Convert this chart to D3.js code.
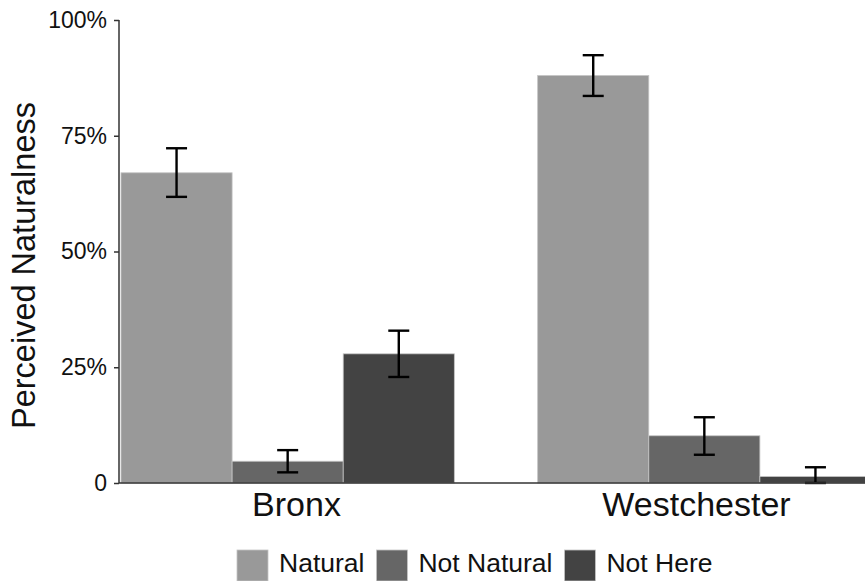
<!DOCTYPE html>
<html>
<head>
<meta charset="utf-8">
<script src="https://cdn.jsdelivr.net/npm/d3@7"></script>
<style>
  html, body { margin: 0; padding: 0; background: #fff; }
  svg { display: block; font-family: "Liberation Sans", Arial, Helvetica, sans-serif; }
</style>
</head>
<body>
<svg id="chart" width="865" height="581"></svg>
<script>
// Perceived naturalness by county and response
const groups = ["Bronx", "Westchester"];
const series = ["Natural", "Not Natural", "Not Here"];
const seriesColors = ["#999999", "#666666", "#434343"];

// Mean share and error-bar bounds per series, one entry per county
const meanNatural = [0.670, 0.880];
const meanNotNatural = [0.047, 0.102];
const meanNotHere = [0.279, 0.014];
const lowNatural = [0.618, 0.836];
const highNatural = [0.723, 0.924];
const lowNotNatural = [0.023, 0.061];
const highNotNatural = [0.071, 0.142];
const lowNotHere = [0.229, 0.000];
const highNotHere = [0.329, 0.034];

const yTicks = [0, 0.25, 0.5, 0.75, 1];
const yTickLabels = ["0", "25%", "50%", "75%", "100%"];
const yTitle = "Perceived Naturalness";

const means = [meanNatural, meanNotNatural, meanNotHere];
const lows = [lowNatural, lowNotNatural, lowNotHere];
const highs = [highNatural, highNotNatural, highNotHere];

const rows = [];
groups.forEach((g, gi) => {
  series.forEach((s, si) => {
    rows.push({ group: g, series: s, value: means[si][gi], lo: lows[si][gi], hi: highs[si][gi] });
  });
});

const svg = d3.select("#chart");
const W = 865, H = 581;
const axisX = 119, plotTop = 20, plotBottom = 483;

const y = d3.scaleLinear().domain([0, 1]).range([plotBottom, plotTop]);
const x0 = d3.scaleBand().domain(groups).range([121, 871]).paddingInner(0.2).paddingOuter(0);
const x1 = d3.scaleBand().domain(series).range([0, x0.bandwidth()]).padding(0);
const color = d3.scaleOrdinal().domain(series).range(seriesColors);

// Bars
svg.append("g").selectAll("rect").data(rows).join("rect")
  .attr("x", d => x0(d.group) + x1(d.series))
  .attr("y", d => y(d.value))
  .attr("width", x1.bandwidth())
  .attr("height", d => y(0) - y(d.value))
  .attr("fill", d => color(d.series))
  .attr("stroke", "#c4c4c4")
  .attr("stroke-width", 0.8);

// Error bars
const capHalf = 10.5;
const eb = svg.append("g").attr("stroke", "#000").attr("stroke-width", 2.4).attr("fill", "none");
rows.forEach(d => {
  const cx = x0(d.group) + x1(d.series) + x1.bandwidth() / 2;
  eb.append("line").attr("x1", cx).attr("x2", cx).attr("y1", y(d.lo)).attr("y2", y(d.hi));
  eb.append("line").attr("x1", cx - capHalf).attr("x2", cx + capHalf).attr("y1", y(d.hi)).attr("y2", y(d.hi));
  eb.append("line").attr("x1", cx - capHalf).attr("x2", cx + capHalf).attr("y1", y(d.lo)).attr("y2", y(d.lo));
});

// Y axis
const yAxis = svg.append("g")
  .attr("transform", `translate(${axisX},0)`)
  .call(d3.axisLeft(y).tickValues(yTicks).tickSize(5).tickPadding(7)
    .tickFormat((d, i) => yTickLabels[i]));
yAxis.select(".domain").attr("stroke", "#333").attr("stroke-width", 1.5).attr("d", `M0,${plotTop}V${plotBottom}`);
yAxis.selectAll(".tick line").attr("stroke", "#333").attr("stroke-width", 1.5);
yAxis.selectAll(".tick text").attr("font-size", 23).attr("fill", "#111")
  .attr("font-family", "Liberation Sans, Arial, sans-serif");

// X axis line and county labels
svg.append("line")
  .attr("x1", axisX).attr("x2", W).attr("y1", plotBottom).attr("y2", plotBottom)
  .attr("stroke", "#333").attr("stroke-width", 1.5);
const xLabel = d3.scalePoint().domain(groups).range([x0.range()[0] + 175, x0.range()[1] - 175]);
const xAxis = svg.append("g")
  .attr("transform", `translate(0,${plotBottom})`)
  .call(d3.axisBottom(xLabel).tickSize(0).tickPadding(9));
xAxis.select(".domain").remove();
xAxis.selectAll(".tick text").attr("font-size", 34).attr("fill", "#111")
  .attr("font-family", "Liberation Sans, Arial, sans-serif");

// Y axis title
svg.append("text")
  .attr("transform", `translate(35,${(plotTop + plotBottom) / 2 + 14}) rotate(-90)`)
  .attr("text-anchor", "middle")
  .attr("font-size", 32.5)
  .attr("fill", "#111")
  .text(yTitle);

// Legend
const legend = svg.append("g").attr("transform", "translate(237,550)");
let lx = 0;
series.forEach((s, i) => {
  legend.append("rect").attr("x", lx).attr("y", 0).attr("width", 31).attr("height", 31)
    .attr("fill", color(s)).attr("stroke", "#c4c4c4").attr("stroke-width", 0.8);
  const t = legend.append("text").attr("x", lx + 42).attr("y", 22)
    .attr("font-size", 26.5).attr("fill", "#111").text(s);
  lx += 42 + t.node().getComputedTextLength() + 12;
});
</script>
</body>
</html>
